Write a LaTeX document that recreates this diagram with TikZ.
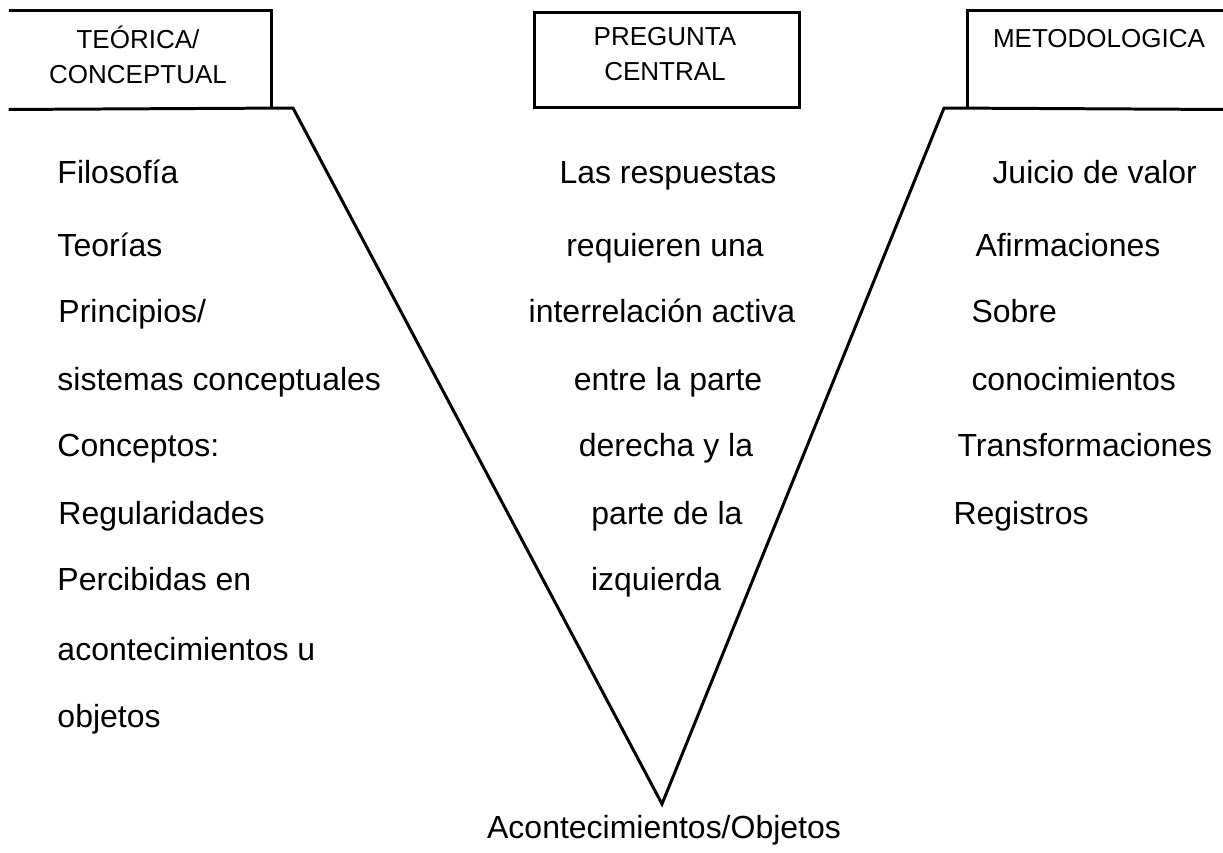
\documentclass[tikz,border=0pt]{standalone}
\usepackage{fontspec}
\setmainfont{Liberation Sans}
\usetikzlibrary{positioning}

\begin{document}
\begin{tikzpicture}[x=0.02cm,y=-0.02cm,line width=1.7pt,
  caja/.style={minimum height=1.92cm,inner sep=0pt},
  titulo/.style={font=\fontsize{14.8}{19.6}\selectfont,align=center,anchor=base,inner sep=0pt},
  texto/.style={font=\fontsize{18.2}{21}\selectfont,anchor=base west,inner sep=0pt},
  centro/.style={font=\fontsize{18.2}{21}\selectfont,anchor=base,inner sep=0pt}]

\useasboundingbox (0,0) rectangle (1223,852);

% las tres cajas
\node[caja,minimum width=5.2cm] (teorica) at (140,60) {};
\node[caja,draw,minimum width=5.3cm] (pregunta) at (667,60) {};
\node[caja,minimum width=5.08cm] (metodo) at (1096,60) {};

\node[titulo] (t1) at (138,83) {TEÓRICA/\\CONCEPTUAL};
\node[titulo] (t2) at (665,80) {PREGUNTA\\CENTRAL};
\node[titulo] (t3) at (1099,47) {METODOLOGICA};

% la V
\coordinate (izq) at (293,108);
\coordinate (fondo) at (662,804);
\coordinate (der) at (944,108);

\draw (teorica.north west) -- (teorica.north east) -- (teorica.south east);
\draw (metodo.south west) -- (metodo.north west) -- (metodo.north east);
\draw (teorica.south west) -- (izq) -- (fondo) -- (der) -- (metodo.south east);

% lado izquierdo
\node[texto] (l1) at (56,183) {Filosofía};
\node[texto] (l2) at (56,256) {Teorías};
\node[texto] (l3) at (57,322) {Principios/};
\node[texto] (l4) at (56,390) {sistemas conceptuales};
\node[texto] (l5) at (56,456) {Conceptos:};
\node[texto] (l6) at (57,524) {Regularidades};
\node[texto] (l7) at (56,590) {Percibidas en};
\node[texto] (l8) at (56,660) {acontecimientos u};
\node[texto] (l9) at (56,727) {objetos};

% centro
\node[centro] (c1) at (668,183) {Las respuestas};
\node[centro] (c2) at (665,256) {requieren una};
\node[centro] (c3) at (662,322) {interrelación activa};
\node[centro] (c4) at (668,390) {entre la parte};
\node[centro] (c5) at (666,456) {derecha y la};
\node[centro] (c6) at (667,524) {parte de la};
\node[centro] (c7) at (656,590) {izquierda};

% lado derecho
\node[texto] (r1) at (991,183) {Juicio de valor};
\node[texto] (r2) at (974,256) {Afirmaciones};
\node[texto] (r3) at (970,322) {Sobre};
\node[texto] (r4) at (970,390) {conocimientos};
\node[texto] (r5) at (956,456) {Transformaciones};
\node[texto] (r6) at (952,524) {Registros};

\node[centro] (abajo) at (664,838) {Acontecimientos/Objetos};
\end{tikzpicture}
\end{document}
